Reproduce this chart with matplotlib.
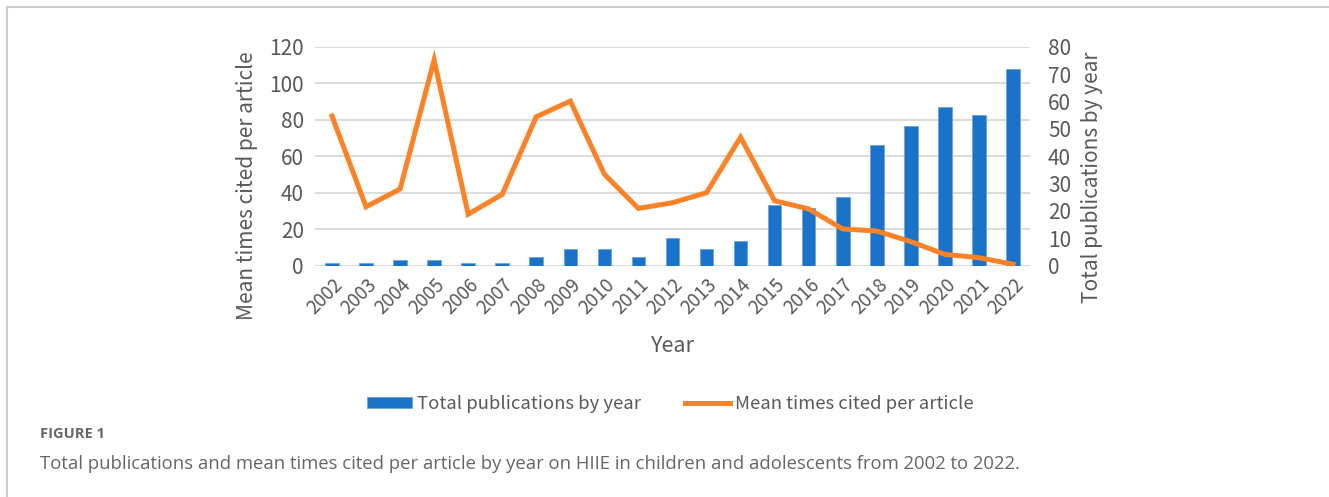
import matplotlib.pyplot as plt
import numpy as np

plt.rcParams['font.family'] = ['Noto Sans CJK SC', 'DejaVu Sans']

years = [str(y) for y in range(2002, 2023)]
publications = [1, 1, 2, 2, 1, 1, 3, 6, 6, 3, 10, 6, 9, 22, 21, 25, 44, 51, 58, 55, 72]
mean_cited = [82, 32.3, 42, 112.7, 28.2, 39.1, 81.6, 90.2, 50.1, 31.4, 34.5, 40.0,
              70.4, 35.6, 31.1, 20.1, 19.0, 13.2, 6.2, 4.4, 0.8]

bar_color = '#1a73c8'
line_color = '#fb8226'
text_color = '#595959'
grid_color = '#d9d9d9'

fig = plt.figure(figsize=(13.29, 4.97), dpi=100)

# faint frame along the top and left edges
fig.add_artist(plt.Line2D([0.0055, 1.0], [0.985, 0.985], color='#cccccc', lw=1.5))
fig.add_artist(plt.Line2D([0.0055, 0.0055], [0.0, 0.985], color='#cccccc', lw=1.5))

pos = [0.237, 0.4654, 0.538, 0.4406]
ax = fig.add_axes(pos)          # left scale + gridlines (bottom layer)
ax2 = ax.twinx()                # right scale, bars
ax3 = fig.add_axes(pos, sharex=ax, sharey=ax)  # line on top, left scale
ax3.axis('off')

ax.set_zorder(1)
ax2.set_zorder(2)
ax3.set_zorder(3)
ax2.patch.set_visible(False)
ax3.patch.set_visible(False)

x = np.arange(len(years))

ax2.bar(x, publications, width=0.4, color=bar_color, edgecolor='#6aa6e0', linewidth=0.6,
        label='Total publications by year')
ax3.plot(x, mean_cited, color=line_color, lw=3.6, solid_joinstyle='miter',
         label='Mean times cited per article')

ax.set_xlim(-0.5, len(years) - 0.5)
ax.set_ylim(0, 120)
ax2.set_ylim(0, 80)
ax.set_yticks(range(0, 121, 20))
ax2.set_yticks(range(0, 81, 10))

for a in (ax, ax2):
    for s in a.spines.values():
        s.set_visible(False)
    a.tick_params(length=0, colors=text_color, labelsize=15)

ax.yaxis.grid(True, color=grid_color, lw=1.3)
ax.tick_params(axis='y', pad=8)
ax2.tick_params(axis='y', pad=13)

ax.set_xticks(x)
ax.set_xticklabels(years, rotation=45, ha='right', rotation_mode='anchor', fontsize=13.5)
ax.tick_params(axis='x', pad=6)

ax.set_xlabel('Year', fontsize=15.5, color=text_color, labelpad=12)
ax.set_ylabel('Mean times cited per article', fontsize=15, color=text_color)
ax2.set_ylabel('Total publications by year', fontsize=15, color=text_color)
ax.yaxis.set_label_coords(-0.079, 0.364)
ax2.yaxis.set_label_coords(1.071, 0.405)

h2, l2 = ax2.get_legend_handles_labels()
h3, l3 = ax3.get_legend_handles_labels()
fig.legend(h2 + h3, l2 + l3, loc='center', bbox_to_anchor=(0.5045, 0.187), ncol=2,
           frameon=False, fontsize=13.3, labelcolor=text_color, handlelength=2.4,
           handleheight=0.5, handletextpad=0.28, columnspacing=2.4)

fig.text(0.030, 0.127, 'FIGURE 1', fontsize=10.5, fontweight='bold', color='#666666',
         family=['Open Sans', 'DejaVu Sans'], va='center')
fig.text(0.030, 0.066, 'Total publications and mean times cited per article by year on HIIE '
         'in children and adolescents from 2002 to 2022.', fontsize=13.3, color='#666666',
         family=['Open Sans', 'DejaVu Sans'], va='center')

fig.savefig('out.png', dpi=100)
